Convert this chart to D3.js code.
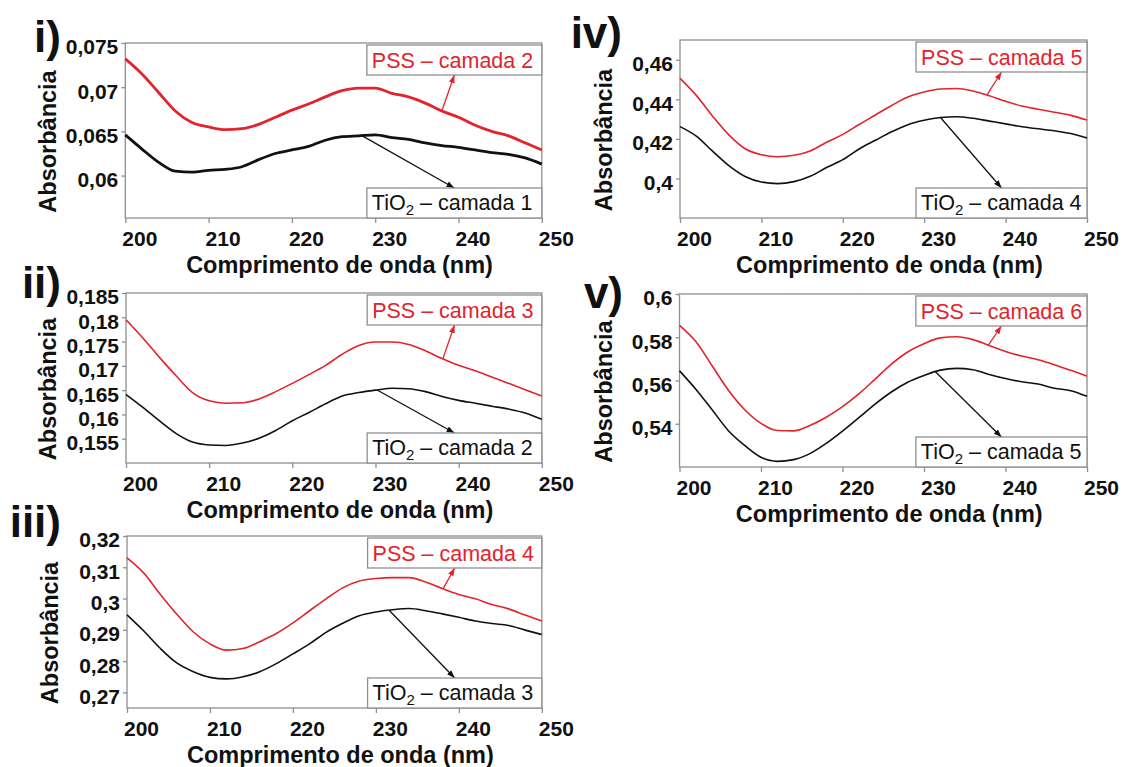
<!DOCTYPE html>
<html><head><meta charset="utf-8">
<script src="https://cdn.jsdelivr.net/npm/d3@7"></script>
<style>
body{margin:0;background:#fff;}
svg{display:block;font-family:"Liberation Sans",Arial,sans-serif;}
</style></head><body>
<svg id="c" width="1128" height="767"></svg>
<script>
// ---------- DATA ----------
const wavelengths = [200,202,204,206,208,210,212,214,216,218,220,222,224,226,228,230,232,234,236,238,240,242,244,246,248,250];

const pss_i  = [0.0732,0.0715,0.0694,0.0673,0.0660,0.0655,0.0652,0.0653,0.0658,0.0666,0.0674,0.0681,0.0689,0.0696,0.0699,0.0699,0.0693,0.0689,0.0682,0.0673,0.0666,0.0657,0.0650,0.0645,0.0637,0.0629];
const tio2_i = [0.0646,0.0630,0.0615,0.0605,0.0604,0.0606,0.0607,0.0610,0.0618,0.0625,0.0629,0.0633,0.0640,0.0644,0.0645,0.0646,0.0643,0.0641,0.0637,0.0634,0.0632,0.0629,0.0626,0.0624,0.0620,0.0613];

const pss_ii  = [0.1795,0.1758,0.1718,0.1680,0.1645,0.1628,0.1623,0.1624,0.1632,0.1647,0.1664,0.1682,0.1701,0.1724,0.1742,0.1749,0.1749,0.1744,0.1731,0.1715,0.1701,0.1690,0.1677,0.1664,0.1651,0.1638];
const tio2_ii = [0.1641,0.1615,0.1587,0.1561,0.1543,0.1537,0.1536,0.1541,0.1551,0.1567,0.1587,0.1604,0.1622,0.1638,0.1645,0.1650,0.1654,0.1653,0.1647,0.1637,0.1629,0.1623,0.1617,0.1611,0.1603,0.1590];

const pss_iii  = [0.3130,0.3082,0.3014,0.2950,0.2893,0.2855,0.2835,0.2840,0.2862,0.2888,0.2922,0.2961,0.2999,0.3034,0.3056,0.3064,0.3067,0.3067,0.3053,0.3032,0.3013,0.2999,0.2981,0.2967,0.2947,0.2928];
const tio2_iii = [0.2948,0.2897,0.2841,0.2794,0.2766,0.2748,0.2743,0.2750,0.2766,0.2792,0.2823,0.2855,0.2892,0.2921,0.2945,0.2957,0.2964,0.2968,0.2961,0.2951,0.2940,0.2928,0.2920,0.2914,0.2899,0.2885];

const pss_iv  = [0.4506,0.4420,0.4315,0.4220,0.4150,0.4120,0.4110,0.4117,0.4139,0.4183,0.4223,0.4273,0.4321,0.4369,0.4412,0.4437,0.4452,0.4455,0.4442,0.4418,0.4390,0.4366,0.4350,0.4335,0.4319,0.4295];
const tio2_iv = [0.4262,0.4214,0.4138,0.4065,0.4010,0.3982,0.3974,0.3984,0.4011,0.4055,0.4095,0.4149,0.4193,0.4236,0.4272,0.4294,0.4308,0.4312,0.4304,0.4290,0.4276,0.4261,0.4251,0.4241,0.4227,0.4204];

const pss_v  = [0.5855,0.5780,0.5668,0.5555,0.5465,0.5402,0.5369,0.5367,0.5392,0.5430,0.5479,0.5538,0.5606,0.5676,0.5732,0.5770,0.5797,0.5802,0.5789,0.5762,0.5734,0.5713,0.5696,0.5673,0.5647,0.5620];
const tio2_v = [0.5645,0.5560,0.5465,0.5368,0.5300,0.5245,0.5226,0.5234,0.5262,0.5309,0.5366,0.5428,0.5491,0.5547,0.5592,0.5623,0.5648,0.5656,0.5650,0.5628,0.5609,0.5594,0.5584,0.5564,0.5553,0.5527];

const panelNames = ["i)","ii)","iii)","iv)","v)"];
const xTicks = [200,210,220,230,240,250];
const yTicks_i = [0.06,0.065,0.07,0.075];     const yTickLabels_i = ["0,06","0,065","0,07","0,075"];
const yTicks_ii = [0.155,0.16,0.165,0.17,0.175,0.18,0.185]; const yTickLabels_ii = ["0,155","0,16","0,165","0,17","0,175","0,18","0,185"];
const yTicks_iii = [0.27,0.28,0.29,0.30,0.31,0.32]; const yTickLabels_iii = ["0,27","0,28","0,29","0,3","0,31","0,32"];
const yTicks_iv = [0.40,0.42,0.44,0.46];      const yTickLabels_iv = ["0,4","0,42","0,44","0,46"];
const yTicks_v = [0.54,0.56,0.58,0.60];       const yTickLabels_v = ["0,54","0,56","0,58","0,6"];
const xTitle = "Comprimento de onda (nm)";
const yTitle = "Absorbância";
const pssLabels = ["PSS – camada 2","PSS – camada 3","PSS – camada 4","PSS – camada 5","PSS – camada 6"];
const tioLayers = ["1","2","3","4","5"];
const pssArrowFrom = [238.0,238.1,238.1,237.7,237.9];
const tioArrowFrom = [228.4,230.2,231.6,232.0,231.4];
const arrowTo = 239.5;
const boxStart = 229;

// ---------- LAYOUT ----------
const panels = [
  {name:panelNames[0], pss:pss_i,   tio:tio2_i,   ticks:yTicks_i,   tl:yTickLabels_i,   dom:[0.0552,0.075], x0:125.3,x1:541.8,y0:43, y1:218, lw:2.8, lab:[61,52],   tx:47},
  {name:panelNames[1], pss:pss_ii,  tio:tio2_ii,  ticks:yTicks_ii,  tl:yTickLabels_ii,  dom:[0.15,0.185],   x0:126,  x1:541.8,y0:293,y1:463, lw:1.6, lab:[61,298],  tx:47},
  {name:panelNames[2], pss:pss_iii, tio:tio2_iii, ticks:yTicks_iii, tl:yTickLabels_iii, dom:[0.265,0.32],   x0:127,  x1:541.8,y0:536,y1:708, lw:1.6, lab:[61,537],  tx:49},
  {name:panelNames[3], pss:pss_iv,  tio:tio2_iv,  ticks:yTicks_iv,  tl:yTickLabels_iv,  dom:[0.38,0.47],    x0:680,  x1:1087, y0:40, y1:218, lw:1.6, lab:[622,48],  tx:603},
  {name:panelNames[4], pss:pss_v,   tio:tio2_v,   ticks:yTicks_v,   tl:yTickLabels_v,   dom:[0.52,0.60],    x0:679.5,x1:1087, y0:294,y1:467, lw:1.6, lab:[623,308], tx:603}
];

const RED = "#e3232a", BLACK = "#111", GRID = "#8f8f8f";
const svg = d3.select("#c");
const defs = svg.append("defs");
[["ar-red",RED],["ar-black",BLACK]].forEach(([id,c])=>{
  defs.append("marker").attr("id",id).attr("viewBox","0 0 8 6")
    .attr("refX",8).attr("refY",3).attr("markerWidth",8).attr("markerHeight",6)
    .attr("markerUnits","userSpaceOnUse").attr("orient","auto")
    .append("path").attr("d","M0,0L8,3L0,6Z").attr("fill",c);
});

function interp(xs, ys, x){
  for(let k=0;k<xs.length-1;k++){
    if(x>=xs[k] && x<=xs[k+1]){ const t=(x-xs[k])/(xs[k+1]-xs[k]); return ys[k]+t*(ys[k+1]-ys[k]); }
  }
  return ys[ys.length-1];
}

panels.forEach((p, idx)=>{
  const x = d3.scaleLinear().domain([200,250]).range([p.x0,p.x1]);
  const y = d3.scaleLinear().domain(p.dom).range([p.y1,p.y0]);
  const g = svg.append("g");

  // frame
  g.append("rect").attr("x",p.x0).attr("y",p.y0).attr("width",p.x1-p.x0).attr("height",p.y1-p.y0)
    .attr("fill","none").attr("stroke",GRID).attr("stroke-width",1.3);

  // axes
  const ya = g.append("g").attr("transform",`translate(${p.x0},0)`)
    .call(d3.axisLeft(y).tickValues(p.ticks).tickFormat((d,i)=>p.tl[i]).tickSize(4).tickPadding(3));
  ya.select(".domain").remove();
  ya.selectAll(".tick line").attr("stroke",GRID).attr("stroke-width",1.3);
  ya.selectAll(".tick text").attr("font-size",21).attr("font-weight","bold").attr("fill",BLACK)
    .attr("font-family","Liberation Sans, Arial, sans-serif").attr("dy","0.52em");

  const xa = g.append("g").attr("transform",`translate(0,${p.y1})`)
    .call(d3.axisBottom(x).tickValues(xTicks).tickFormat(d3.format("d")).tickSize(5).tickPadding(3));
  xa.select(".domain").remove();
  xa.selectAll(".tick line").attr("stroke",GRID).attr("stroke-width",1.3);
  xa.selectAll(".tick text").attr("font-size",21).attr("font-weight","bold").attr("fill",BLACK)
    .attr("font-family","Liberation Sans, Arial, sans-serif").attr("dy","0.93em").attr("dx",14);

  // titles
  g.append("text").attr("x",(p.x0+p.x1)/2 + 6).attr("y",p.y1+55).attr("text-anchor","middle")
    .attr("font-size",23.5).attr("font-weight","bold").attr("fill",BLACK).text(xTitle);
  const cy = (p.y0+p.y1)/2 + 11;
  g.append("text").attr("transform",`translate(${p.tx+8.5},${cy}) rotate(-90)`).attr("text-anchor","middle")
    .attr("font-size",23.5).attr("font-weight","bold").attr("fill",BLACK).text(yTitle);

  // panel label
  g.append("text").attr("x",p.lab[0]).attr("y",p.lab[1]).attr("text-anchor","end")
    .attr("font-size",44).attr("font-weight","bold").attr("fill",BLACK).text(p.name);

  // lines
  const line = d3.line().x((d,i)=>x(wavelengths[i])).y(d=>y(d)).curve(d3.curveMonotoneX);
  g.append("path").datum(p.tio).attr("d",line).attr("fill","none").attr("stroke",BLACK).attr("stroke-width",p.lw).attr("stroke-linejoin","round");
  g.append("path").datum(p.pss).attr("d",line).attr("fill","none").attr("stroke",RED).attr("stroke-width",p.lw).attr("stroke-linejoin","round");

  // label boxes
  const bx = x(boxStart), bw = p.x1 - bx, bh = 30;
  const pssTop = p.y0 + 2, tioTop = p.y1 - bh;
  // arrows
  g.append("line").attr("x1",x(pssArrowFrom[idx])).attr("y1",y(interp(wavelengths,p.pss,pssArrowFrom[idx])))
    .attr("x2",x(arrowTo)).attr("y2",pssTop+bh).attr("stroke",RED).attr("stroke-width",1.3).attr("marker-end","url(#ar-red)");
  g.append("line").attr("x1",x(tioArrowFrom[idx])).attr("y1",y(interp(wavelengths,p.tio,tioArrowFrom[idx])))
    .attr("x2",x(arrowTo)).attr("y2",tioTop).attr("stroke",BLACK).attr("stroke-width",1.3).attr("marker-end","url(#ar-black)");

  g.append("rect").attr("x",bx).attr("y",pssTop).attr("width",bw).attr("height",bh)
    .attr("fill","#fff").attr("stroke",GRID).attr("stroke-width",1.3);
  g.append("text").attr("x",bx+5).attr("y",pssTop+bh/2+7.6).attr("font-size",21.5).attr("fill",RED).text(pssLabels[idx]);

  g.append("rect").attr("x",bx).attr("y",tioTop).attr("width",bw).attr("height",bh)
    .attr("fill","#fff").attr("stroke",GRID).attr("stroke-width",1.3);
  const t = g.append("text").attr("x",bx+5).attr("y",tioTop+bh/2+6.5).attr("font-size",21.5).attr("fill",BLACK);
  t.append("tspan").text("TiO");
  t.append("tspan").attr("font-size",15).attr("dy",5).text("2");
  t.append("tspan").attr("dy",-5).text(" – camada " + tioLayers[idx]);
});
</script>
</body></html>
